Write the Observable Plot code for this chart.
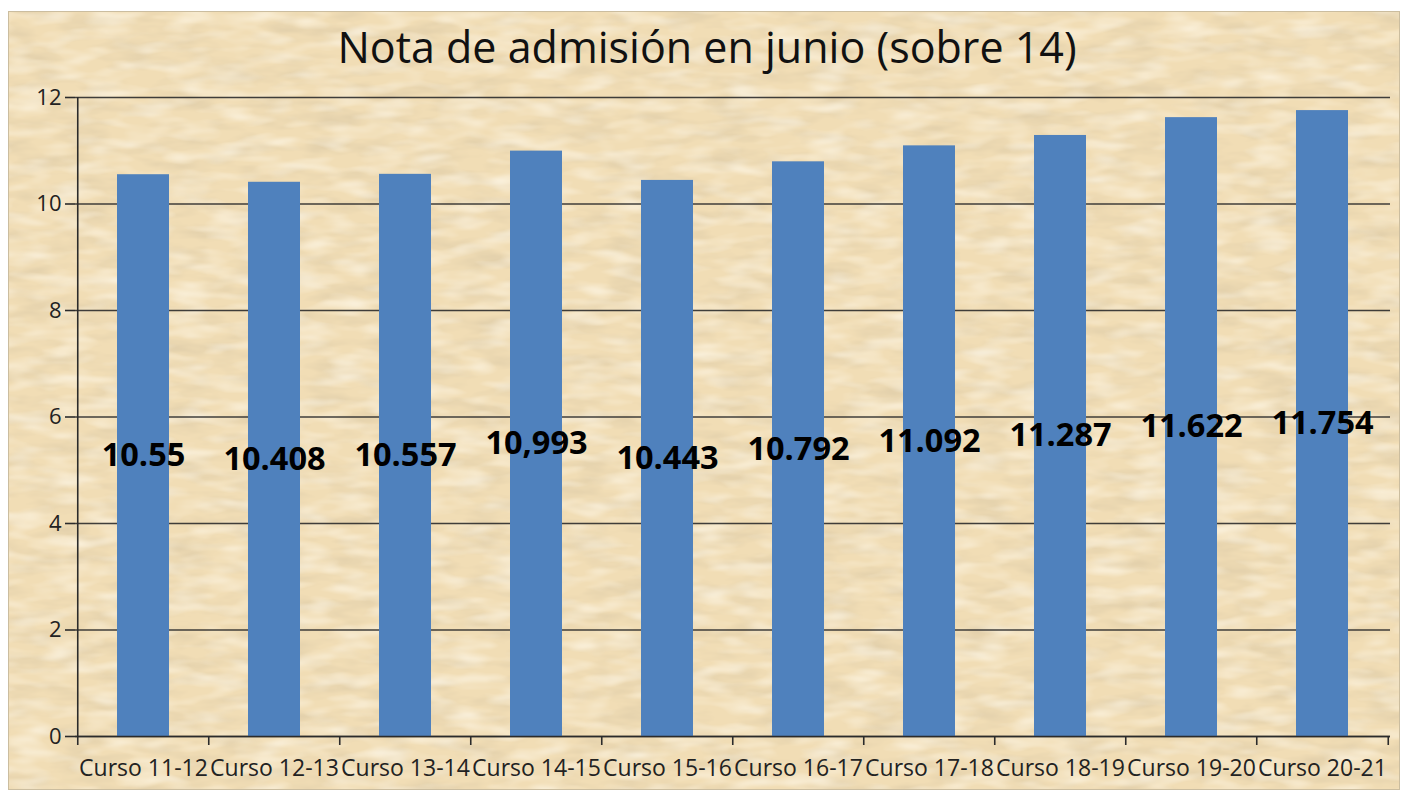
<!DOCTYPE html>
<html>
<head>
<meta charset="utf-8">
<script src="https://cdn.jsdelivr.net/npm/d3@7"></script>
<script src="https://cdn.jsdelivr.net/npm/@observablehq/plot@0.6"></script>
<style>
  html, body { margin: 0; padding: 0; background: #ffffff; }
  #chart {
    position: absolute; left: 8px; top: 11px; width: 1392px; height: 779px;
    box-sizing: border-box; border: 1px solid #cbbd9f; overflow: hidden;
    background-color: #f1ddb5;
    background-image: url("data:image/svg+xml;utf8,<svg xmlns='http://www.w3.org/2000/svg' width='1392' height='779'><filter id='n' x='0' y='0' width='100%' height='100%'><feTurbulence type='fractalNoise' baseFrequency='0.02 0.07' numOctaves='3' seed='7'/><feColorMatrix values='0 0 0 0 0.7  0 0 0 0 0.58  0 0 0 0 0.38  0 0 0 1.3 -0.55'/></filter><filter id='m' x='0' y='0' width='100%' height='100%'><feTurbulence type='fractalNoise' baseFrequency='0.025 0.08' numOctaves='2' seed='19'/><feColorMatrix values='0 0 0 0 1  0 0 0 0 0.96  0 0 0 0 0.86  0 0 0 1.3 -0.55'/></filter><rect width='100%' height='100%' filter='url(%23n)'/><rect width='100%' height='100%' filter='url(%23m)'/></svg>");
    font-family: "Open Sans", "Noto Sans", sans-serif;
  }
  #title {
    height: 70px; line-height: 70px; text-align: center;
    font-size: 43px; color: #111; margin-left: 6px;
  }
</style>
</head>
<body>
<div id="chart">
  <div id="title">Nota de admisión en junio (sobre 14)</div>
  <div id="plot"></div>
</div>
<script>
const categories = ["Curso 11-12","Curso 12-13","Curso 13-14","Curso 14-15","Curso 15-16","Curso 16-17","Curso 17-18","Curso 18-19","Curso 19-20","Curso 20-21"];
const values = [10.55, 10.408, 10.557, 10.993, 10.443, 10.792, 11.092, 11.287, 11.622, 11.754];
const valueLabels = ["10.55","10.408","10.557","10,993","10.443","10.792","11.092","11.287","11.622","11.754"];
const yTicks = [0, 2, 4, 6, 8, 10, 12];

const data = categories.map((c, i) => ({curso: c, value: values[i], label: valueLabels[i]}));

const W = 1390, H = 708;
const mL = 66, mR = 9, mT = 15, mB = 54;
const step = (W - mL - mR) / categories.length;
const ink = "#2b2b2b";

const chart = Plot.plot({
  width: W, height: H,
  marginLeft: mL, marginRight: mR, marginTop: mT, marginBottom: mB,
  style: {background: "transparent", fontFamily: "'Open Sans', 'Noto Sans', sans-serif", color: "#222"},
  x: {domain: categories, paddingInner: 0.6, paddingOuter: 0.3, label: null},
  y: {domain: [0, 12], label: null},
  marks: [
    Plot.gridY(yTicks, {stroke: ink, strokeOpacity: 0.9, strokeWidth: 1.6}),
    Plot.barY(data, {x: "curso", y: "value", fill: "#4f81bd"}),
    Plot.ruleX(categories.slice(0, 1), {x: d => d, dx: -step / 2, y1: 0, y2: 12, stroke: ink, strokeWidth: 1.6}),
    Plot.ruleY([0], {stroke: ink, strokeWidth: 1.6}),
    Plot.ruleX(categories, {x: d => d, dx: -step / 2, y1: 0, y2: 0, insetBottom: -9, stroke: ink, strokeWidth: 1.6}),
    Plot.ruleX(categories.slice(-1), {x: d => d, dx: step / 2, y1: 0, y2: 0, insetBottom: -9, stroke: ink, strokeWidth: 1.6}),
    Plot.axisY(yTicks, {tickSize: 10, tickPadding: 4, fontSize: 22, tickFormat: d => String(d), stroke: ink, strokeWidth: 1.6, label: null}),
    Plot.axisX({tickSize: 0, tickPadding: 23, fontSize: 23, label: null}),
    Plot.text(data, {x: "curso", y: d => d.value / 2, text: "label", fontSize: 32.5, fontWeight: "bold", fill: "#000"})
  ]
});
document.getElementById("plot").appendChild(chart);
</script>
</body>
</html>
